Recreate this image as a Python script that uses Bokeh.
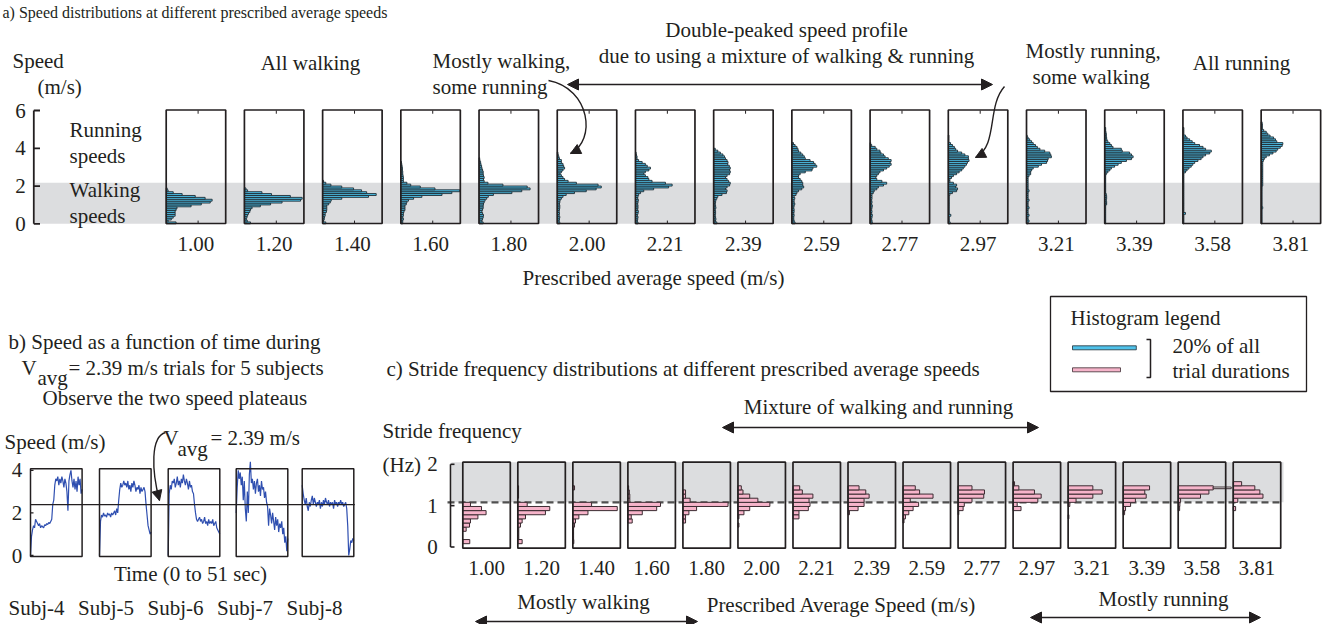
from bokeh.plotting import figure
from bokeh.models import Range1d, Arrow, NormalHead
from bokeh.core.properties import value
from bokeh.embed import file_html
from bokeh.resources import INLINE

# ------------------------------------------------------------------ data
speed_labels = ["1.00", "1.20", "1.40", "1.60", "1.80", "2.00", "2.21", "2.39",
                "2.59", "2.77", "2.97", "3.21", "3.39", "3.58", "3.81"]

# panel a: % of trial duration in 0.1 m/s speed bins (bin 0 = 0.0-0.1 m/s)
hist_a_100 = [3.1, 0.6, 1.6, 2.2, 2.8, 2.8, 2.8, 3.1, 3.4, 7.8, 11.0, 13.8, 14.4, 12.2, 9.1, 5.0, 2.2, 0.6, 0.3]
hist_a_120 = [1.9, 0.9, 0.6, 0.8, 1.0, 1.3, 1.7, 1.9, 2.4, 5.0, 8.2, 11.8, 17.6, 18.1, 14.4, 8.5, 5.5, 1.0, 0.5]
hist_a_140 = [1.0, 0.3, 0.5, 0.6, 0.8, 0.8, 1.2, 1.3, 1.3, 1.3, 1.9, 2.4, 2.7, 6.0, 14.4, 16.8, 13.8, 12.2, 9.7, 6.0, 2.6, 1.0, 0.3]
hist_a_160 = [0.6, 0.6, 0.8, 0.6, 0.8, 0.8, 1.0, 1.3, 1.3, 1.3, 1.7, 1.9, 2.4, 4.0, 6.6, 12.9, 16.0, 18.5, 10.7, 6.1, 3.1, 1.9,
              0.8, 0.8, 0.8, 0.7, 0.6, 0.6, 0.5, 0.5, 0.4, 0.3, 0.2]
hist_a_180 = [1.3, 0.9, 1.1, 1.3, 1.4, 1.1, 0.9, 1.1, 1.3, 1.3, 1.4, 1.6, 1.9, 2.4, 2.9, 4.5, 10.3, 13.4, 16.0, 15.1, 7.5, 2.8,
              1.6, 1.4, 1.6, 1.4, 1.3, 1.3, 1.1, 0.9, 0.8, 0.6, 0.5, 0.3, 0.2]
hist_a_200 = [0.8, 0.6, 0.7, 0.8, 0.6, 0.7, 0.6, 0.7, 0.8, 0.8, 0.7, 0.8, 0.9, 1.3, 1.8, 2.8, 5.4, 9.1, 12.2, 13.8, 12.8, 6.0,
              3.4, 2.3, 1.8, 1.3, 0.9, 1.3, 1.8, 2.3, 2.0, 1.8, 1.3, 1.3, 0.7, 0.5, 0.3, 0.2]
hist_a_221 = [0.8, 0.6, 0.7, 0.8, 0.6, 0.8, 0.9, 0.7, 0.8, 0.8, 0.7, 0.8, 0.9, 0.7, 0.8, 1.0, 1.6, 2.6, 5.7, 10.4, 11.5, 9.4,
              5.2, 4.2, 3.9, 3.1, 2.6, 3.1, 4.2, 4.7, 3.7, 3.1, 2.1, 1.0, 0.5, 0.5, 0.3, 0.2]
hist_a_239 = [1.0, 0.6, 0.7, 0.6, 0.5, 0.6, 0.6, 0.5, 0.7, 0.6, 0.5, 0.6, 0.7, 1.0, 1.3, 2.6, 4.0, 4.2, 3.7, 4.2, 5.0, 5.2,
              4.7, 4.2, 3.7, 4.2, 5.0, 5.2, 5.0, 5.2, 4.9, 4.4, 4.5, 4.2, 3.7, 3.4, 2.9, 2.1, 1.3, 0.5]
hist_a_259 = [1.0, 0.7, 0.6, 0.6, 0.7, 0.6, 0.7, 0.7, 0.6, 0.7, 0.9, 0.7, 0.7, 0.9, 0.7, 1.3, 1.6, 2.1, 3.1, 3.7, 3.4, 3.4,
              3.1, 2.6, 2.1, 2.1, 2.6, 4.2, 6.3, 6.6, 7.8, 7.3, 6.8, 5.7, 4.2, 3.9, 3.4, 2.8, 2.1, 1.9, 1.6, 1.0, 0.5]
hist_a_277 = [0.7, 0.6, 0.5, 0.6, 0.7, 0.5, 0.6, 0.5, 0.6, 0.7, 0.5, 0.6, 0.5, 0.6, 0.6, 0.6, 1.0, 1.3, 2.1, 2.6, 4.2, 5.2,
              3.7, 2.1, 1.8, 2.1, 2.6, 3.1, 4.2, 5.2, 6.0, 6.6, 6.3, 6.6, 5.7, 4.7, 4.2, 3.4, 3.1, 2.1, 1.6, 0.5, 0.2]
hist_a_297 = [0.6, 0.3, 0.3, 0.3, 0.8, 0.3, 0.3, 0.3, 0.3, 0.3, 0.3, 0.3, 0.3, 0.3, 0.3, 0.5, 1.3, 2.6, 2.9, 2.3, 2.6, 1.6,
              0.5, 0.5, 1.0, 1.6, 2.6, 3.4, 4.2, 4.7, 5.2, 5.7, 6.0, 6.5, 6.3, 6.3, 5.2, 4.2, 2.9, 2.3, 1.9, 1.3, 0.7,
              0.2, 0.2, 0.2, 0.2]
hist_a_321 = [0.5, 0.8, 0.5, 0.5, 0.8, 0.5, 0.5, 0.5, 0.8, 0.5, 0.5, 0.5, 0.8, 0.5, 0.5, 0.5, 0.5, 0.8, 0.5, 0.5, 0.5, 0.5,
              0.5, 0.5, 0.5, 0.8, 1.3, 1.3, 1.6, 2.1, 3.7, 4.7, 6.3, 6.6, 6.8, 7.8, 7.6, 7.3, 5.7, 4.2, 3.4, 2.8, 2.1,
              1.6, 1.0, 0.5, 0.2]
hist_a_339 = [0.3, 0.3, 0.3, 0.3, 0.3, 0.3, 0.3, 0.3, 0.3, 0.3, 0.6, 0.6, 0.5, 0.6, 0.6, 0.5, 0.3, 0.3, 0.3, 0.3, 0.3, 0.3,
              0.3, 0.3, 0.3, 0.3, 0.5, 1.0, 1.6, 2.1, 3.1, 4.2, 5.2, 6.8, 8.4, 8.9, 8.4, 7.8, 5.5, 5.2, 2.6, 2.1, 1.6,
              1.0, 0.7, 0.6, 0.5, 0.5, 0.4, 0.3, 0.3]
hist_a_358 = [0.3, 0.3, 0.3, 0.3, 0.3, 0.8, 0.3, 0.3, 0.3, 0.3, 0.3, 0.3, 0.3, 0.3, 0.3, 0.3, 0.3, 0.3, 0.3, 0.3, 0.3, 0.3,
              0.3, 0.3, 0.3, 0.3, 0.3, 0.8, 1.3, 1.9, 2.6, 3.1, 3.7, 4.7, 5.7, 6.3, 7.1, 8.4, 8.9, 7.1, 6.3, 5.2, 3.7,
              2.9, 2.1, 1.3, 0.8, 0.3, 0.3, 0.3, 0.3]
hist_a_381 = [0.3, 0.3, 0.3, 0.3, 0.3, 0.3, 0.3, 0.3, 0.5, 0.3, 0.3, 0.3, 0.3, 0.3, 0.3, 0.3, 0.3, 0.3, 0.3, 0.3, 0.5, 0.5,
              0.5, 0.5, 0.5, 0.5, 0.5, 0.5, 0.5, 0.5, 0.5, 0.5, 0.5, 0.7, 1.0, 1.6, 2.6, 3.7, 4.7, 5.2, 6.0, 6.6, 6.8,
              4.9, 4.5, 3.9, 2.8, 2.1, 1.6, 0.8, 0.4, 0.4, 0.4, 0.3]
hists_a = [hist_a_100, hist_a_120, hist_a_140, hist_a_160, hist_a_180, hist_a_200, hist_a_221, hist_a_239,
           hist_a_259, hist_a_277, hist_a_297, hist_a_321, hist_a_339, hist_a_358, hist_a_381]

# panel c: % of trial duration in 0.1 Hz stride-frequency bins (bin k spans -0.02+0.1k .. 0.08+0.1k Hz)
pink_c_100 = [0, 2.9, 0, 0, 1.4, 2.8, 3.2, 6.3, 9.7, 7.8, 3.2, 0, 0, 0, 0, 0]
pink_c_120 = [0, 1.8, 0.4, 0.4, 0.4, 1.1, 1.8, 3.2, 11.5, 13.3, 3.9, 0, 0.3, 0.3, 0.3, 0]
pink_c_140 = [0, 0.4, 0.3, 0.3, 0.3, 0.7, 1.1, 2.5, 6.3, 18.5, 7.8, 0, 0, 0, 0.7, 0]
pink_c_160 = [0, 0, 0, 0, 0, 0, 1.8, 1.4, 6.0, 12.0, 13.6, 0.8, 0.8, 0.6, 0.3, 0]
pink_c_180 = [0, 0, 0, 0, 0, 0, 1.1, 1.1, 2.5, 5.7, 18.8, 3.0, 1.1, 1.1, 0, 0]
pink_c_200 = [0, 0, 0, 0, 0, 0.4, 0, 0.4, 2.5, 4.9, 13.3, 8.3, 4.9, 2.1, 1.4, 0]
pink_c_221 = [0, 0, 0, 0, 0, 0, 0, 2.5, 2.5, 6.4, 7.1, 6.7, 8.3, 3.9, 2.8, 0]
pink_c_239 = [0, 0, 0, 0, 0, 0, 0, 0, 0.6, 4.2, 6.7, 6.7, 8.8, 7.4, 4.6, 0]
pink_c_259 = [0, 0, 0, 0, 0, 0, 0.4, 1.0, 2.4, 4.2, 6.5, 3.0, 12.5, 6.9, 5.1, 0]
pink_c_277 = [0, 0, 0, 0, 0, 0, 0, 0, 0.3, 2.1, 2.6, 5.8, 10.7, 11.0, 5.8, 0]
pink_c_297 = [0, 0, 0, 0, 0, 0, 0, 0, 0, 3.3, 1.7, 10.3, 11.7, 8.9, 2.4, 0.6]
pink_c_321 = [0, 0, 0, 0, 0, 0, 0, 0.3, 0, 0, 0.7, 3.3, 10.3, 14.2, 10.3, 0]
pink_c_339 = [0, 0, 0, 0, 0, 0, 0, 0, 0.6, 1.0, 3.1, 5.1, 9.6, 9.0, 11.0, 0]
pink_c_358 = [0, 0, 0, 0, 0, 0, 0, 0, 0, 0.6, 0.7, 1.0, 9.3, 12.8, 14.6, 0]
pink_c_381 = [0, 0, 0, 0, 0, 0, 0, 0, 0, 1.0, 0, 1.9, 12.4, 11.1, 9.0, 3.5]
pinks_c = [pink_c_100, pink_c_120, pink_c_140, pink_c_160, pink_c_180, pink_c_200, pink_c_221, pink_c_239,
           pink_c_259, pink_c_277, pink_c_297, pink_c_321, pink_c_339, pink_c_358, pink_c_381]
pink_overflow_box = 13      # 3.58 m/s box: one bar continues as a thin bar
pink_overflow_bin = 14
pink_overflow_pct = 22.1

# panel b: speed (m/s) vs time (s) for five subjects, V_avg = 2.39 m/s
vavg_b = 2.39
t_sec = [0, 1, 2, 3, 4, 5, 6, 7, 8, 9, 10, 11, 12, 13, 14, 15, 16, 17, 18, 19, 20, 21, 22, 23, 24, 25,
         26, 27, 28, 29, 30, 31, 32, 33, 34, 35, 36, 37, 38, 39, 40, 41, 42, 43, 44, 45, 46, 47, 48, 49, 50, 51]
subj4 = [0.0, 0.9, 1.2, 1.4, 1.3, 1.7, 1.6, 1.5, 1.4, 1.5, 1.3, 1.4, 1.35, 1.3, 1.45, 1.4, 1.5, 1.45, 1.55, 1.5,
         1.6, 1.7, 2.4, 2.6, 3.3, 3.6, 3.5, 3.7, 3.3, 3.6, 3.4, 3.7, 3.5, 3.2, 3.6, 3.4, 3.0, 2.1, 3.5, 3.8,
         4.0, 3.5, 3.2, 3.6, 3.1, 3.5, 3.0, 3.7, 3.3, 3.6, 2.9, 3.1]
subj5 = [0.0, 1.6, 1.9, 1.8, 2.0, 1.85, 1.9, 1.8, 2.0, 1.9, 1.95, 1.8, 2.0, 1.9, 2.0, 2.1, 1.9, 2.2, 2.0, 2.6,
         3.1, 3.4, 3.2, 3.3, 3.5, 3.3, 3.4, 3.2, 3.5, 3.1, 3.3, 3.0, 3.4, 3.2, 3.5, 3.3, 3.0, 3.2, 3.1, 3.3,
         2.9, 3.2, 3.0, 3.1, 3.2, 3.0, 2.4, 1.9, 1.4, 1.2, 1.0, 1.1]
subj6 = [0.0, 2.9, 3.3, 3.1, 3.5, 3.4, 3.6, 3.2, 3.4, 3.7, 3.3, 3.5, 3.2, 3.6, 3.4, 3.8, 3.5, 3.3, 3.6, 3.4,
         3.1, 3.5, 3.2, 3.3, 3.0, 2.9, 2.4, 2.0, 1.7, 1.6, 1.7, 1.8, 1.6, 1.7, 1.5, 1.6, 1.8, 1.5, 1.6, 1.4,
         1.7, 1.5, 1.6, 1.5, 1.7, 1.4, 1.5, 1.6, 1.3, 1.2, 1.1, 1.0]
subj7 = [2.0, 3.2, 4.0, 3.6, 3.9, 3.3, 3.7, 2.6, 3.5, 2.2, 1.6, 3.0, 2.0, 3.8, 4.4, 3.4, 3.6, 3.1, 3.5, 2.9,
         3.4, 3.6, 3.0, 3.3, 2.8, 3.5, 3.1, 3.2, 2.7, 3.0, 2.5, 2.3, 1.4, 2.2, 1.9, 1.5, 2.0, 1.6, 1.2, 1.8,
         1.4, 1.7, 1.1, 1.5, 1.3, 1.6, 1.0, 1.3, 0.6, 0.9, 0.2, 0.8]
subj8 = [3.3, 2.9, 2.6, 2.4, 2.7, 2.3, 2.1, 2.5, 2.3, 2.6, 2.8, 2.4, 2.7, 2.5, 2.3, 2.5, 2.4, 2.6, 2.2, 2.5,
         2.3, 2.6, 2.4, 2.7, 2.5, 2.4, 2.6, 2.3, 2.5, 2.4, 2.5, 2.2, 2.6, 2.4, 2.5, 2.3, 2.5, 2.4, 2.6, 2.4,
         2.5, 2.3, 2.4, 2.5, 2.2, 1.4, 0.0, 0.3, 0.7, 0.6, 0.8, 0.7]
subjects_b = [subj4, subj5, subj6, subj7, subj8]
subject_labels = ["Subj-4", "Subj-5", "Subj-6", "Subj-7", "Subj-8"]

speed_ticks_a = [0, 2, 4, 6]
speed_ticks_b = [0, 2, 4]
freq_ticks_c = [0, 1, 2]
walk_run_speed = 2.17     # upper edge of the grey "walking speeds" band (m/s)
walk_run_freq = 1.08      # walk/run stride-frequency boundary (Hz)
legend_pct = 20

# ------------------------------------------------------------------ layout / style
FONT = value("Liberation Serif")
INK = "#231f20"
BLUE = "#4fc2ea"
BLUE_EDGE = "#1f2d34"
PINK = "#f6b4ca"
PINK_EDGE = "#3b2b31"
GREY = "#dcdddf"
TRACE = "#2f4fb0"

FL, FT, FR, FB = 0, 0, 1334, 624
p = figure(width=FR - FL, height=FB - FT, x_range=Range1d(FL, FR), y_range=Range1d(FB, FT),
           output_backend="svg", toolbar_location=None, min_border=0,
           x_axis_location=None, y_axis_location=None)
p.grid.visible = False
p.outline_line_color = None


def xr(px0, pxu):
    return Range1d(start=(FL - px0) / pxu, end=(FR - px0) / pxu)


def yr(px0, pxu):
    return Range1d(start=(px0 - FB) / pxu, end=(px0 - FT) / pxu)


# panel a geometry
A_LEFT0, A_PITCH, A_W = 165.7, 78.21, 59.5
A_TOP, A_BOT = 109.5, 223.0
A_SPD0, A_SPDU = 223.3, 18.88
BLUE_PXU = 3.19
# panel c geometry
C_LEFT0, C_PITCH, C_W = 462.3, 55.03, 47.5
C_TOP, C_BOT = 461.7, 547.7
C_HZ0, C_HZU = 546.5, 41.35
PINK_PXU = 2.4
# panel b geometry
B_LEFTS = [30.0, 99.0, 167.7, 235.7, 301.7]
B_W = 51.6
B_TOP, B_BOT = 468.3, 556.0
B_SPD0, B_SPDU = 555.0, 21.3

extra_x = {}
extra_y = {"spd_a": yr(A_SPD0, A_SPDU), "hz_c": yr(C_HZ0, C_HZU), "spd_b": yr(B_SPD0, B_SPDU)}
for j in range(len(speed_labels)):
    extra_x["a%d" % j] = xr(A_LEFT0 + j * A_PITCH, BLUE_PXU)
    extra_x["c%d" % j] = xr(C_LEFT0 + j * C_PITCH, PINK_PXU)
for k in range(len(subjects_b)):
    extra_x["b%d" % k] = xr(B_LEFTS[k], B_W / t_sec[-1])
extra_x["leg_blue"] = xr(1072, BLUE_PXU)
extra_x["leg_pink"] = xr(1072, PINK_PXU)
p.extra_x_ranges = extra_x
p.extra_y_ranges = extra_y


def txt(x, y, s, align="left", size=21, **kw):
    p.text(x=[x], y=[y], text=[s], text_font=FONT, text_font_size="%dpx" % size,
           text_align=align, text_baseline="middle", text_color=INK, **kw)


def head(size=9):
    return NormalHead(size=size, fill_color=INK, line_color=INK, line_width=1)


def darrow(x0, x1, y):
    p.add_layout(Arrow(start=head(11), end=head(11), x_start=x0, y_start=y, x_end=x1, y_end=y,
                       line_color=INK, line_width=1.6))


def curved(x0, y0, cx0, cy0, cx1, cy1, x1, y1):
    p.bezier(x0=[x0], y0=[y0], x1=[x1], y1=[y1], cx0=[cx0], cy0=[cy0], cx1=[cx1], cy1=[cy1],
             line_color=INK, line_width=1.4)
    dx, dy = x1 - cx1, y1 - cy1
    n = (dx * dx + dy * dy) ** 0.5
    p.add_layout(Arrow(end=head(10), x_start=x1 - 4 * dx / n, y_start=y1 - 4 * dy / n, x_end=x1, y_end=y1,
                       line_color=INK, line_width=1.4))


# ------------------------------------------------------------------ panel a
p.quad(left=[34.5], right=[1320], bottom=[0], top=[walk_run_speed], y_range_name="spd_a",
       fill_color=GREY, line_color=None)
for j, h in enumerate(hists_a):
    ys = [(i + 0.5) * 0.1 for i in range(len(h))]
    p.hbar(y=ys, height=0.1, left=0, right=h, x_range_name="a%d" % j, y_range_name="spd_a",
           fill_color=BLUE, line_color=BLUE_EDGE, line_width=0.9)
    p.segment(x0=[10, 10], x1=[10, 10], y0=[0, 6], y1=[0.17, 5.83], x_range_name="a%d" % j,
              y_range_name="spd_a", line_color=INK, line_width=1)
a_lefts = [A_LEFT0 + j * A_PITCH for j in range(len(speed_labels))]
p.quad(left=a_lefts, right=[l + A_W for l in a_lefts], top=[A_TOP] * len(a_lefts),
       bottom=[A_BOT] * len(a_lefts), fill_color=None, line_color=INK, line_width=1.7)
# axis
p.segment(x0=[33.3], x1=[33.3], y0=[0], y1=[6], y_range_name="spd_a", line_color=INK, line_width=1.8)
p.segment(x0=[33.3] * 4, x1=[39.5] * 4, y0=speed_ticks_a, y1=speed_ticks_a, y_range_name="spd_a",
          line_color=INK, line_width=1.8)
p.text(x=[20] * 4, y=speed_ticks_a, text=[str(v) for v in speed_ticks_a], y_range_name="spd_a",
       text_font=FONT, text_font_size="21px", text_align="center", text_baseline="middle", text_color=INK)
for j, lab in enumerate(speed_labels):
    txt(a_lefts[j] + A_W / 2, 243, lab, "center")

txt(2, 12, "a) Speed distributions at different prescribed average speeds", size=16)
txt(12, 60, "Speed")
txt(37, 86, "(m/s)")
txt(69, 129, "Running")
txt(69, 155, "speeds")
txt(69, 189, "Walking")
txt(69, 215, "speeds")
txt(310, 62, "All walking", "center")
txt(432, 60, "Mostly walking,")
txt(432, 86, "some running")
txt(786, 29, "Double-peaked speed profile", "center")
txt(786, 55, "due to using a mixture of walking & running", "center")
txt(1025, 50, "Mostly running,")
txt(1032, 76, "some walking")
txt(1241, 62, "All running", "center")
txt(653, 277, "Prescribed average speed (m/s)", "center")
darrow(567, 992, 84)
curved(548, 80, 590, 88, 596, 140, 570, 153)
curved(1004, 86, 986, 106, 998, 145, 975, 157)

# ------------------------------------------------------------------ panel b
for k, spd in enumerate(subjects_b):
    p.line(x=t_sec, y=spd, x_range_name="b%d" % k, y_range_name="spd_b", line_color=TRACE, line_width=1.2)
p.quad(left=B_LEFTS, right=[l + B_W for l in B_LEFTS], top=[B_TOP] * 5, bottom=[B_BOT] * 5,
       fill_color=None, line_color=INK, line_width=1.5)
p.segment(x0=[B_LEFTS[0]], x1=[B_LEFTS[-1] + B_W + 1], y0=[vavg_b], y1=[vavg_b], y_range_name="spd_b",
          line_color=INK, line_width=1.3)
p.segment(x0=[B_LEFTS[0]] * 3, x1=[B_LEFTS[0] + 3] * 3, y0=speed_ticks_b, y1=speed_ticks_b,
          y_range_name="spd_b", line_color=INK, line_width=1.3)
p.text(x=[16.5] * 3, y=speed_ticks_b, text=[str(v) for v in speed_ticks_b], y_range_name="spd_b",
       text_font=FONT, text_font_size="21px", text_align="center", text_baseline="middle", text_color=INK)
txt(8, 341, "b) Speed as a function of time during")
txt(21, 367, "V")
txt(37, 377, "avg")
txt(68, 367, "= 2.39 m/s trials for 5 subjects")
txt(42, 397, "Observe the two speed plateaus")
txt(4, 441, "Speed (m/s)")
txt(163, 437, "V")
txt(177, 448, "avg")
txt(210, 437, "= 2.39 m/s")
txt(190, 573, "Time (0 to 51 sec)", "center")
subj_centers = [36, 105.5, 175, 244.5, 314]
for c, lab in zip(subj_centers, subject_labels):
    txt(c, 607, lab, "center")
curved(165, 432, 150, 436, 151, 470, 159, 500)

# ------------------------------------------------------------------ panel c
p.quad(left=[451], right=[1283], bottom=[walk_run_freq], top=[(C_HZ0 - C_TOP) / C_HZU], y_range_name="hz_c",
       fill_color=GREY, line_color=None)
p.segment(x0=[447], x1=[1283], y0=[walk_run_freq], y1=[walk_run_freq], y_range_name="hz_c",
          line_color="#505050", line_width=2.2, line_dash="7 4")
for j, h in enumerate(pinks_c):
    ks = [k for k in range(len(h)) if h[k] > 0]
    p.hbar(y=[0.1 * k + 0.03 for k in ks], height=0.1, left=0, right=[h[k] for k in ks],
           x_range_name="c%d" % j, y_range_name="hz_c", fill_color=PINK, line_color=PINK_EDGE, line_width=1)
p.hbar(y=[0.1 * pink_overflow_bin + 0.03], height=0.04, left=[pinks_c[pink_overflow_box][pink_overflow_bin]],
       right=[pink_overflow_pct], x_range_name="c%d" % pink_overflow_box, y_range_name="hz_c",
       fill_color="white", line_color=PINK_EDGE, line_width=1)
c_lefts = [C_LEFT0 + j * C_PITCH for j in range(len(speed_labels))]
p.quad(left=c_lefts, right=[l + C_W for l in c_lefts], top=[C_TOP] * len(c_lefts),
       bottom=[C_BOT] * len(c_lefts), fill_color=None, line_color=INK, line_width=1.7)
p.segment(x0=[450], x1=[450], y0=[0], y1=[2], y_range_name="hz_c", line_color=INK, line_width=1.6)
p.segment(x0=[450] * 3, x1=[454] * 3, y0=freq_ticks_c, y1=freq_ticks_c, y_range_name="hz_c",
          line_color=INK, line_width=1.6)
p.text(x=[432] * 3, y=freq_ticks_c, text=[str(v) for v in freq_ticks_c], y_range_name="hz_c",
       text_font=FONT, text_font_size="21px", text_align="center", text_baseline="middle", text_color=INK)
for j, lab in enumerate(speed_labels):
    txt(c_lefts[j] + C_W / 2, 567, lab, "center")
txt(386, 368, "c) Stride frequency distributions at different prescribed average speeds")
txt(878, 406, "Mixture of walking and running", "center")
txt(382, 430, "Stride frequency")
txt(382, 464, "(Hz)")
txt(583, 601, "Mostly walking", "center")
txt(841, 604, "Prescribed Average Speed (m/s)", "center")
txt(1163, 598, "Mostly running", "center")
darrow(722, 1038, 427)
darrow(475, 697, 621)
darrow(1030, 1260, 617)

# ------------------------------------------------------------------ legend
p.quad(left=[1050], right=[1306], top=[296], bottom=[391], fill_color=None, line_color=INK, line_width=1.3)
txt(1070, 317, "Histogram legend")
p.hbar(y=[347.3], height=4, left=0, right=[legend_pct], x_range_name="leg_blue",
       fill_color=BLUE, line_color=BLUE_EDGE, line_width=0.8)
p.hbar(y=[369.3], height=4, left=0, right=[legend_pct], x_range_name="leg_pink",
       fill_color=PINK, line_color=PINK_EDGE, line_width=0.8)
p.line(x=[1146, 1150, 1150, 1146], y=[339, 339, 377, 377], line_color=INK, line_width=1.5)
txt(1172, 345, "20% of all")
txt(1172, 370, "trial durations")

open("out.html", "w").write(file_html(p, INLINE))
